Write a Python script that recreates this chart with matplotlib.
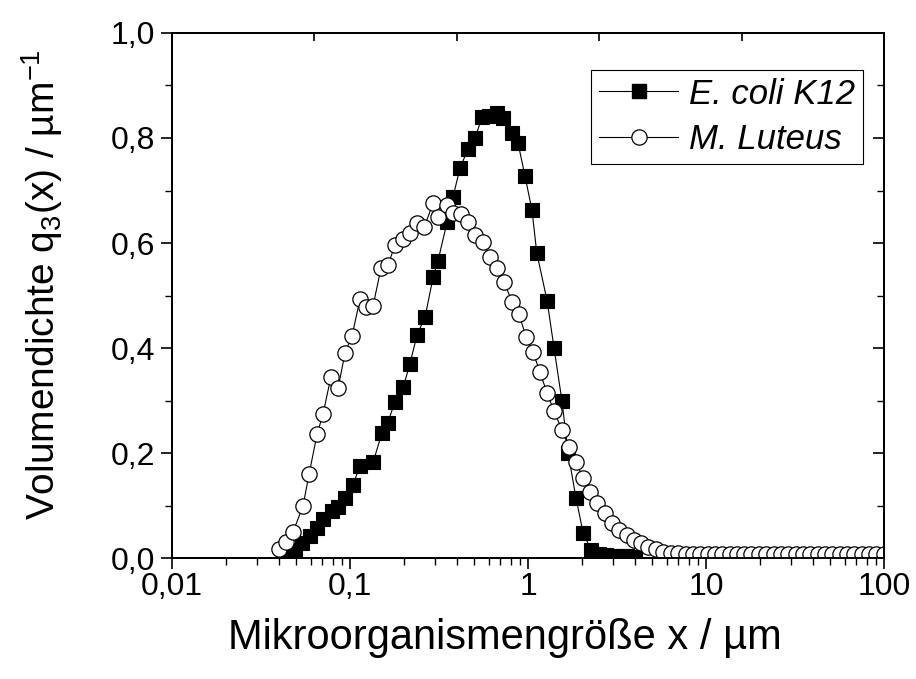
import matplotlib
matplotlib.use("Agg")
import matplotlib.pyplot as plt
from matplotlib.ticker import FixedLocator, LogLocator, MultipleLocator, FuncFormatter, NullFormatter
from matplotlib.lines import Line2D

plt.rcParams['font.family'] = ['Liberation Sans', 'DejaVu Sans']
plt.rcParams['mathtext.default'] = 'regular'

# E. coli K12 volume density distribution
ecoli_x = [0.0443, 0.0491, 0.0537, 0.0596, 0.0653, 0.0705, 0.0792, 0.0857, 0.0937,
           0.104, 0.114, 0.135, 0.151, 0.163, 0.179, 0.199, 0.217, 0.238, 0.264,
           0.293, 0.312, 0.351, 0.379, 0.415, 0.460, 0.504, 0.552, 0.604, 0.670,
           0.724, 0.813, 0.879, 0.961, 1.052, 1.12, 1.28, 1.40, 1.55, 1.68, 1.86,
           2.04, 2.26, 2.49, 2.75, 3.0, 3.3, 3.6, 4.0]
ecoli_q3 = [0.005, 0.015, 0.028, 0.042, 0.058, 0.075, 0.090, 0.097, 0.115,
            0.140, 0.176, 0.183, 0.238, 0.258, 0.298, 0.325, 0.370, 0.425, 0.459,
            0.535, 0.566, 0.640, 0.688, 0.743, 0.779, 0.800, 0.840, 0.842, 0.848,
            0.838, 0.810, 0.790, 0.728, 0.663, 0.581, 0.490, 0.400, 0.300, 0.200, 0.114,
            0.048, 0.015, 0.008, 0.005, 0.004, 0.003, 0.003, 0.002]

# M. Luteus volume density distribution
luteus_x = [0.0399, 0.0437, 0.0479, 0.0544, 0.0589, 0.0653, 0.0705, 0.0781, 0.0857,
            0.0937, 0.1026, 0.1138, 0.1230, 0.1346, 0.1493, 0.1634, 0.179, 0.199,
            0.217, 0.238, 0.261, 0.293, 0.312, 0.351, 0.379, 0.421, 0.460, 0.504,
            0.558, 0.612, 0.670, 0.733, 0.813, 0.889, 0.975, 1.067, 1.167, 1.28,
            1.40, 1.55, 1.70, 1.86, 2.04, 2.23, 2.44, 2.71, 2.97, 3.25, 3.60, 3.94,
            4.32, 4.72, 5.24, 5.73, 6.35, 6.96, 7.72, 8.45, 9.29, 10.2, 11.2, 12.3,
            13.6, 14.9, 16.4, 18.0, 19.8, 21.8, 24.0, 26.4, 29.0, 31.9, 35.1, 38.6,
            42.4, 46.6, 51.3, 56.4, 62.0, 68.2, 75.0, 82.5, 90.7, 99.7]
luteus_q3 = [0.017, 0.030, 0.050, 0.099, 0.160, 0.236, 0.274, 0.345, 0.324,
             0.390, 0.423, 0.493, 0.478, 0.480, 0.552, 0.558, 0.596, 0.608,
             0.619, 0.638, 0.630, 0.676, 0.650, 0.672, 0.657, 0.655, 0.640, 0.615,
             0.602, 0.573, 0.552, 0.526, 0.488, 0.465, 0.421, 0.392, 0.354, 0.314,
             0.280, 0.244, 0.211, 0.183, 0.152, 0.126, 0.105, 0.086, 0.067, 0.053,
             0.044, 0.034, 0.029, 0.021, 0.017, 0.012, 0.010, 0.009, 0.008, 0.007,
             0.007, 0.007, 0.007, 0.007, 0.007, 0.007, 0.007, 0.007, 0.007, 0.007,
             0.007, 0.007, 0.007, 0.007, 0.007, 0.007, 0.007, 0.007, 0.007, 0.007,
             0.007, 0.007, 0.007, 0.007, 0.007, 0.007]

x_ticks = [0.01, 0.1, 1, 10, 100]
x_tick_labels = ['0,01', '0,1', '1', '10', '100']
y_ticks = [0.0, 0.2, 0.4, 0.6, 0.8, 1.0]

series_labels = ['E. coli K12', 'M. Luteus']

fig = plt.figure(figsize=(9.16, 6.79), dpi=100)
ax = fig.add_axes([0.1878, 0.1782, 0.7773, 0.7732])

ax.plot(ecoli_x, ecoli_q3, color='black', lw=0.8, marker='s', ms=9.5,
        mfc='black', mec='black', mew=0.8, zorder=3)
ax.plot(luteus_x, luteus_q3, color='black', lw=0.8, marker='o', ms=11,
        mfc='white', mec='black', mew=0.9, zorder=4)

ax.set_xscale('log')
ax.set_xlim(0.01, 100)
ax.set_ylim(0, 1.0)

ax.xaxis.set_major_locator(FixedLocator(x_ticks))
ax.xaxis.set_major_formatter(FuncFormatter(
    lambda v, p: x_tick_labels[x_ticks.index(min(x_ticks, key=lambda t: abs(t - v)))]))
ax.xaxis.set_minor_locator(LogLocator(base=10, subs=range(2, 10), numticks=20))
ax.xaxis.set_minor_formatter(NullFormatter())

ax.yaxis.set_major_locator(FixedLocator(y_ticks))
ax.yaxis.set_minor_locator(MultipleLocator(0.1))
ax.yaxis.set_major_formatter(FuncFormatter(lambda v, p: f"{v:.1f}".replace('.', ',')))

for s in ax.spines.values():
    s.set_linewidth(1.2)

ax.tick_params(axis='both', which='major', direction='out', length=8, width=1.2,
               labelsize=23, pad=2)
ax.tick_params(axis='both', which='minor', direction='out', length=5, width=1.0)
ax.tick_params(axis='y', which='major', pad=4)

# right axis ticks point inward
ax_r = ax.twinx()
ax_r.set_ylim(0, 1.0)
ax_r.yaxis.set_major_locator(FixedLocator(y_ticks))
ax_r.yaxis.set_minor_locator(MultipleLocator(0.1))
ax_r.tick_params(axis='y', which='major', direction='in', length=8, width=1.2, labelright=False)
ax_r.tick_params(axis='y', which='minor', direction='in', length=5, width=1.0)

# top axis with evenly spaced inward ticks
ax_t = ax.twiny()
ax_t.set_xlim(0, 1)
ax_t.xaxis.set_major_locator(FixedLocator([0, 0.2, 0.4, 0.6, 0.8, 1.0]))
ax_t.tick_params(axis='x', which='major', direction='in', length=6, width=1.2, labeltop=False)
for a in (ax_r, ax_t):
    for s in a.spines.values():
        s.set_linewidth(1.2)

ax.set_xlabel('Mikroorganismengröße x / µm', fontsize=30)
ax.xaxis.set_label_coords(0.468, -0.115)
ax.set_ylabel('Volumendichte q$_3$(x) / µm$^{-1}$', fontsize=28)
ax.yaxis.set_label_coords(-0.150, 0.52)

handles = [
    Line2D([], [], color='black', lw=0.8, marker='s', ms=9.5, mfc='black', mec='black'),
    Line2D([], [], color='black', lw=0.8, marker='o', ms=11, mfc='white', mec='black', mew=0.9),
]
leg = ax_t.legend(handles, series_labels, loc='upper right', bbox_to_anchor=(0.970, 0.9295),
                  bbox_transform=ax.transAxes, fancybox=False, framealpha=1,
                  edgecolor='black', borderaxespad=0, borderpad=0.22, handlelength=2.3,
                  handletextpad=0.3, labelspacing=0.36, prop={'size': 25, 'style': 'italic'})
leg.get_frame().set_linewidth(0.8)

fig.savefig('out.png', dpi=100)
